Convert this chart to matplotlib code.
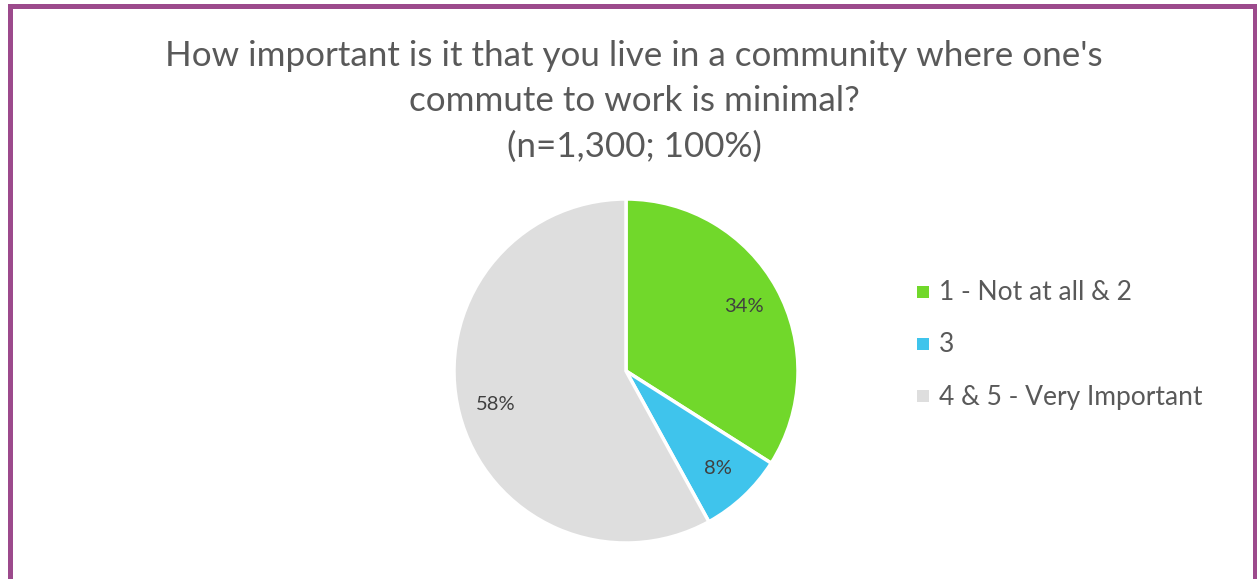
import matplotlib
matplotlib.use("Agg")
import matplotlib.pyplot as plt
from matplotlib.patches import Rectangle

plt.rcParams['font.family'] = ['Lato', 'DejaVu Sans']

title_lines = ["How important is it that you live in a community where one's",
               "commute to work is minimal?",
               "(n=1,300; 100%)"]
categories = ["1 - Not at all & 2", "3", "4 & 5 - Very Important"]
values = [34, 8, 58]
colors = ["#71D82B", "#3FC4EC", "#DEDEDE"]

W, H = 1257, 579
fig = plt.figure(figsize=(W / 100, H / 100), dpi=100)
fig.patch.set_facecolor("white")

# purple frame
border = Rectangle((9.5 / W, -0.1), (1254.5 - 9.5) / W, (H - 5.5) / H + 0.1,
                   transform=fig.transFigure, fill=False, edgecolor="#9C4A8C",
                   linewidth=3.6, zorder=10)
fig.patches.append(border)

for i, line in enumerate(title_lines):
    fig.text(634 / W, 1 - (66 + 45.5 * i) / H, line, ha="center", va="baseline",
             fontsize=25.2, color="#595959")

cx, cy, r = 626, H - 371, 172
ax = fig.add_axes([(cx - r) / W, (cy - r) / H, 2 * r / W, 2 * r / H])
wedges, texts, autotexts = ax.pie(values, colors=colors, startangle=90, counterclock=False,
                                  autopct=lambda p: f"{p:.0f}%", pctdistance=0.78,
                                  wedgeprops=dict(edgecolor="white", linewidth=2.5))
for t in autotexts:
    t.set_fontsize(14.5)
    t.set_color("#404040")
ax.set_xlim(-1, 1)
ax.set_ylim(-1, 1)
ax.axis("off")

# legend
for i, (lab, col) in enumerate(zip(categories, colors)):
    yc = 292 + 52 * i
    fig.patches.append(Rectangle((917 / W, 1 - (yc + 6) / H), 12 / W, 12 / H,
                                 transform=fig.transFigure, facecolor=col,
                                 edgecolor="none"))
    fig.text(939 / W, 1 - (yc + 8.5) / H, lab, ha="left", va="baseline",
             fontsize=19, color="#595959")

fig.savefig("out.png", dpi=100)
